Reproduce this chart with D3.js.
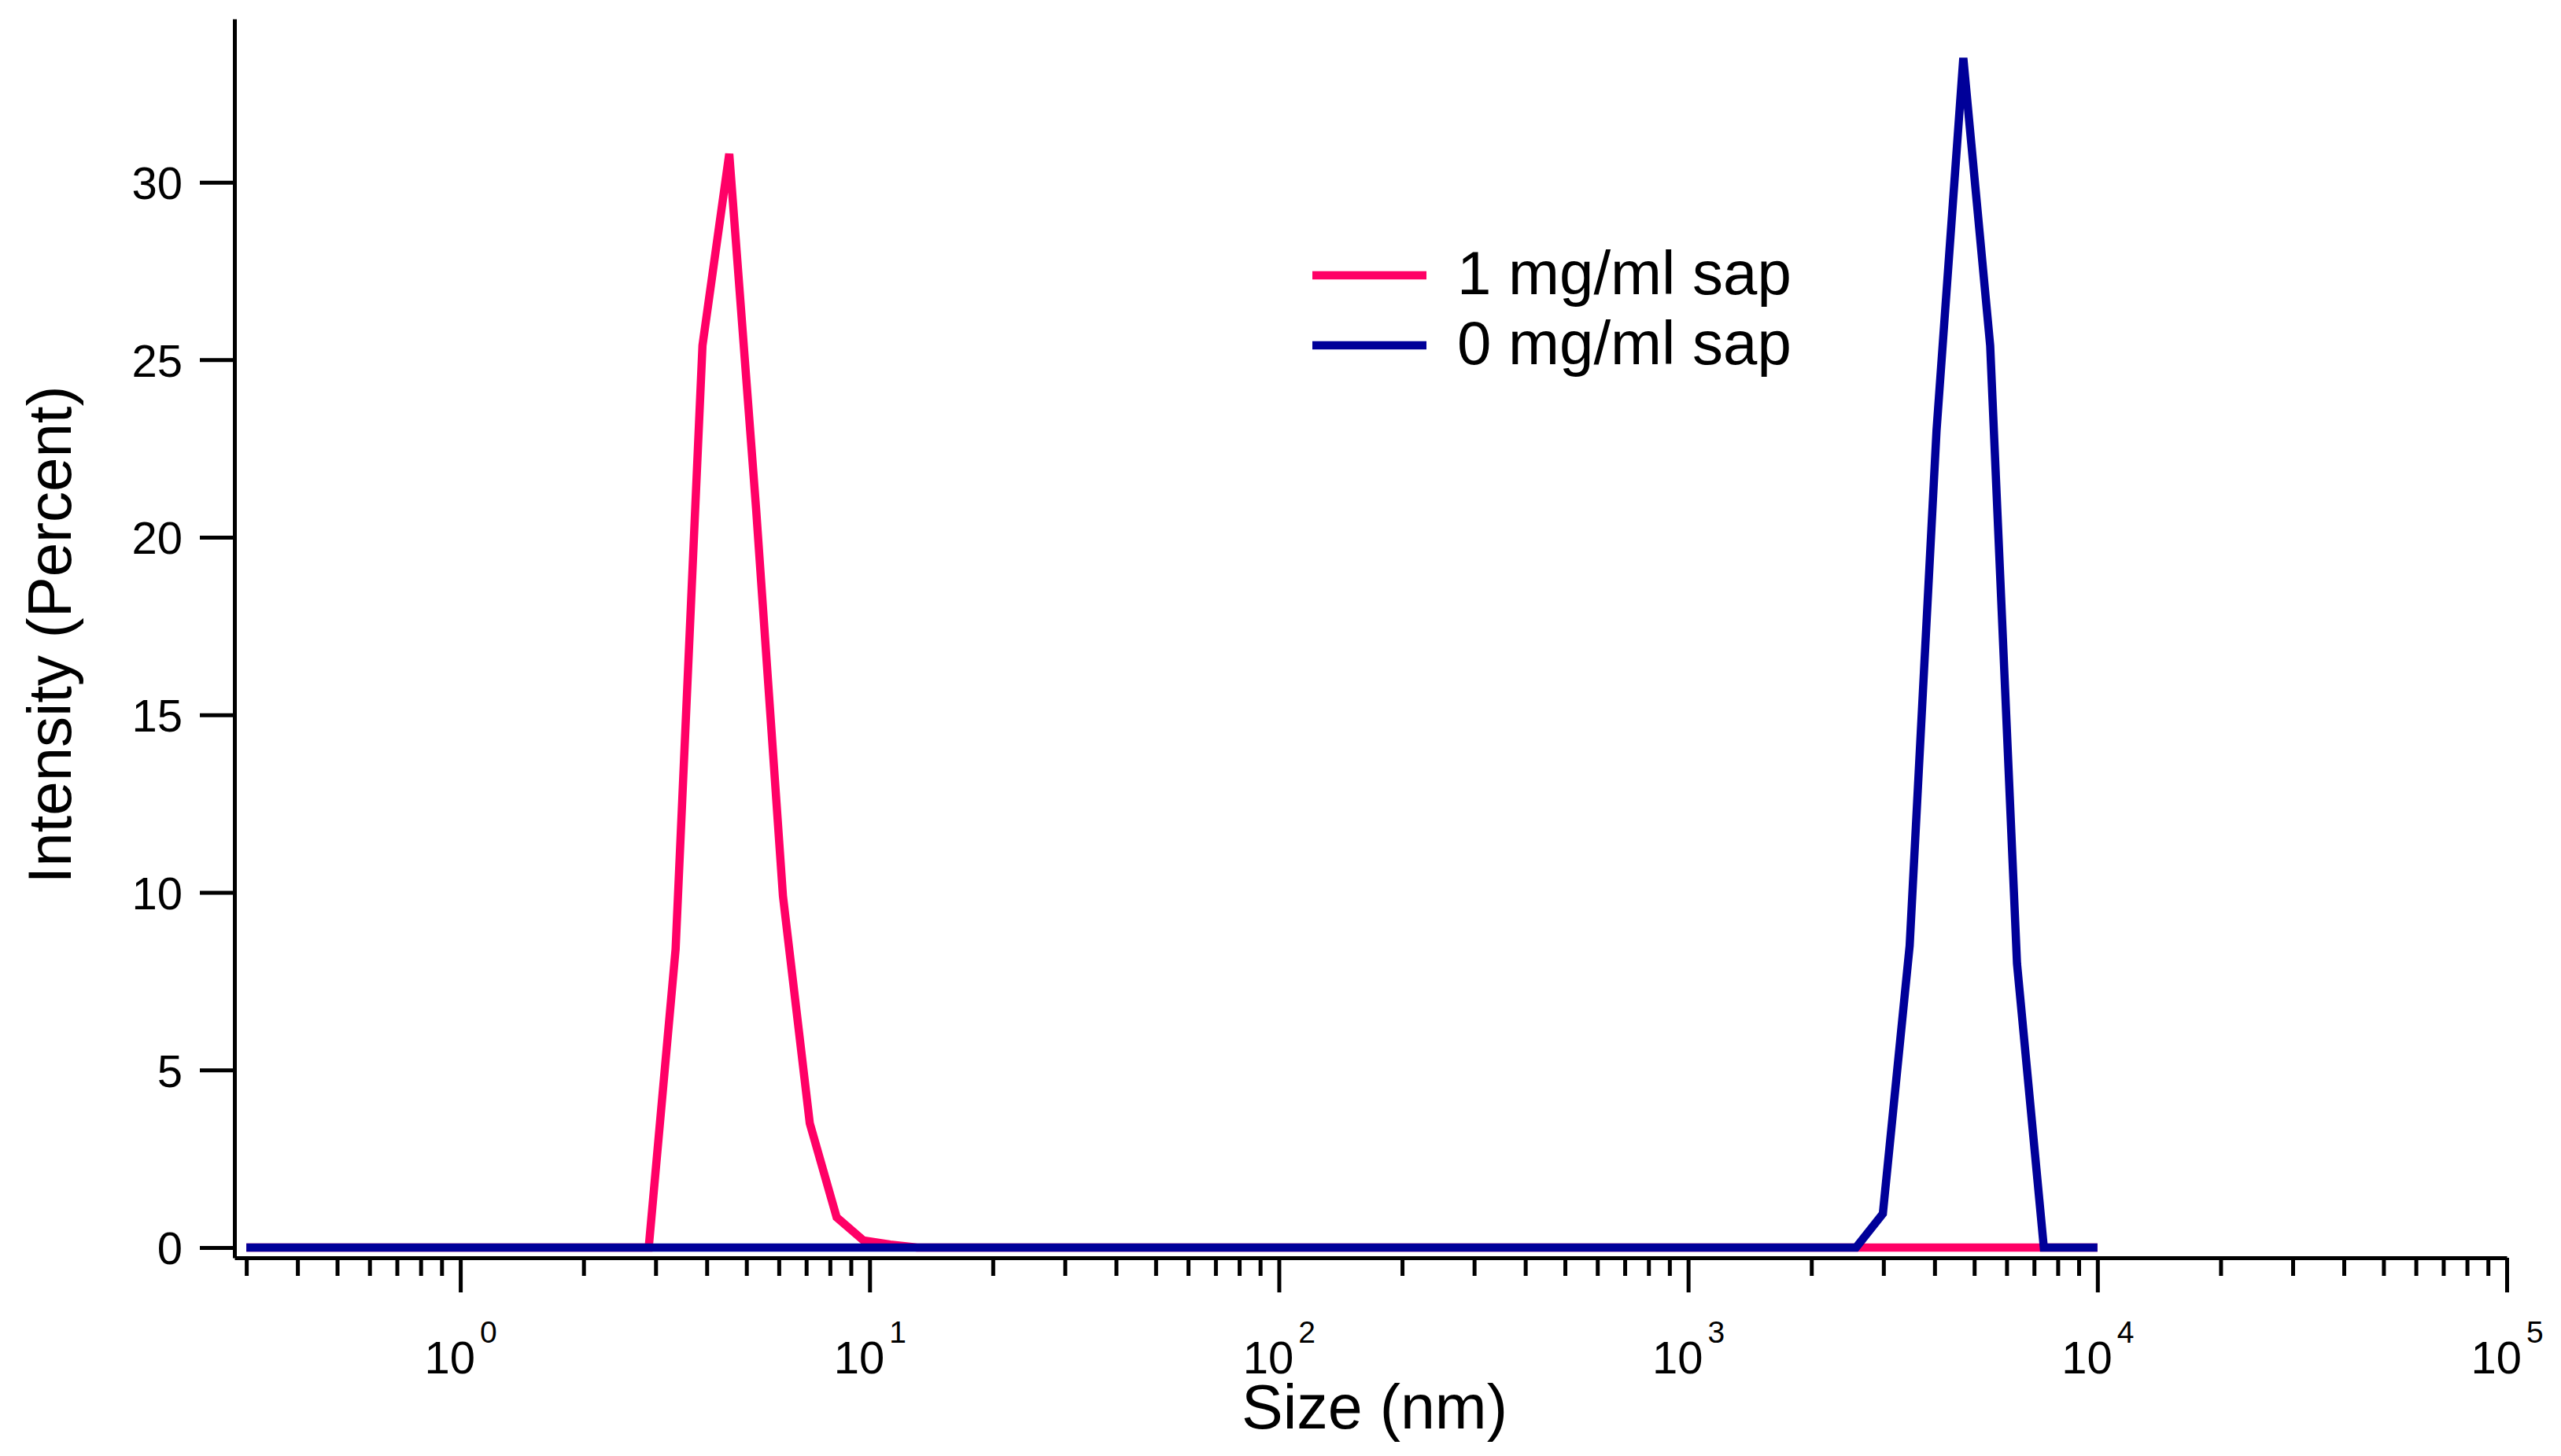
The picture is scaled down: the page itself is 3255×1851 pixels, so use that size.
<!DOCTYPE html>
<html>
<head>
<meta charset="utf-8">
<script src="https://cdn.jsdelivr.net/npm/d3@7"></script>
<style>
	body { margin: 0; background: #fff; }
	text { font-family: "Liberation Sans", Arial, sans-serif; fill: #000; }
</style>
</head>
<body>
<div id="chart"></div>
<script>

// 1 mg/ml sap (pink)
let sizePink = [0.3, 2.886, 3.357, 3.905, 4.540, 5.280, 6.141, 7.141, 8.306, 9.656, 11.23, 13.06, 10000];
let intensityPink = [0, 0, 8.4, 25.4, 30.8, 20.8, 9.9, 3.5, 0.85, 0.2, 0.08, 0, 0];

// 0 mg/ml sap (blue)
let sizeBlue = [0.3, 2571, 2990, 3477, 4044, 4702, 5469, 6360, 7396, 8601, 10000];
let intensityBlue = [0, 0, 0.95, 8.5, 23.0, 33.5, 25.4, 8.0, 0, 0, 0];

let seriesNames = ["1 mg/ml sap", "0 mg/ml sap"];
let seriesColors = ["#ff0066", "#000099"];

let yTicks = [0, 5, 10, 15, 20, 25, 30];
let xMajorExp = [0, 1, 2, 3, 4, 5];
let xMinor = [];
[-1, 0, 1, 2, 3, 4].forEach(function(e){
	[2, 3, 4, 5, 6, 7, 8, 9].forEach(function(m){
		let v = m * Math.pow(10, e);
		if (v >= 0.3) xMinor.push(v);
	});
});

const width = 3255;
const height = 1851;

let svg = d3.select("#chart")
	.append("svg")
	.attr("width", width)
	.attr("height", height);

svg.append("rect")
	.attr("width", width)
	.attr("height", height)
	.attr("fill", "#fff");

let x = d3.scaleLog()
	.domain([0.2806, 1e5])
	.range([298, 3186]);

let y = d3.scaleLinear()
	.domain([-0.29, 34.6])
	.range([1599, 24]);

// lines
let line = d3.line()
	.x(d => x(d[0]))
	.y(d => y(d[1]));

let pinkData = sizePink.map((s, i) => [s, intensityPink[i]]);
let blueData = sizeBlue.map((s, i) => [s, intensityBlue[i]]);

[pinkData, blueData].forEach(function(data, i){
	svg.append("path")
		.datum(data)
		.attr("d", line)
		.attr("fill", "none")
		.attr("stroke", seriesColors[i])
		.attr("stroke-width", 10.5)
		.attr("stroke-linejoin", "miter");
});

// y axis
let yAxis = svg.append("g")
	.attr("transform", "translate(" + 298 + ",0)")
	.call(d3.axisLeft(y)
		.tickValues(yTicks)
		.tickSize(44)
		.tickSizeOuter(0)
		.tickPadding(22)
		.tickFormat(d3.format("d")));

yAxis.selectAll("text")
	.attr("font-size", 58)
	.attr("dy", "0.36em");

// x axis, minor ticks first
let xAxisMinor = svg.append("g")
	.attr("transform", "translate(0," + 1599 + ")")
	.call(d3.axisBottom(x)
		.tickValues(xMinor)
		.tickSize(23)
		.tickSizeOuter(0)
		.tickFormat(""));
xAxisMinor.select(".domain").remove();

let xAxis = svg.append("g")
	.attr("transform", "translate(0," + 1599 + ")")
	.call(d3.axisBottom(x)
		.tickValues(xMajorExp.map(e => Math.pow(10, e)))
		.tickSize(44)
		.tickSizeOuter(0));

xAxis.selectAll(".tick text")
	.attr("y", 147)
	.attr("dy", 0)
	.attr("font-size", 58)
	.text(null)
	.each(function(d){
		let t = d3.select(this);
		t.append("tspan").text("10");
		t.append("tspan")
			.attr("font-size", 39)
			.attr("dx", 6)
			.attr("dy", -39)
			.text(Math.round(Math.log10(d)));
	});

svg.selectAll(".domain, .tick line")
	.attr("stroke", "#000")
	.attr("stroke-width", 5);

svg.selectAll(".tick text").attr("fill", "#000");

// axis titles
svg.append("text")
	.attr("transform", "translate(90,807) rotate(-90)")
	.attr("text-anchor", "middle")
	.attr("font-size", 78)
	.text("Intensity (Percent)");

svg.append("text")
	.attr("x", 1747)
	.attr("y", 1816)
	.attr("text-anchor", "middle")
	.attr("font-size", 79)
	.text("Size (nm)");

// legend
let legend = svg.append("g")
	.attr("class", "legend");

seriesNames.forEach(function(name, i){
	let ly = 350 + i * 89;
	legend.append("line")
		.attr("x1", 1668)
		.attr("x2", 1813)
		.attr("y1", ly)
		.attr("y2", ly)
		.attr("stroke", seriesColors[i])
		.attr("stroke-width", 10.5);
	legend.append("text")
		.attr("x", 1852)
		.attr("y", ly + 24)
		.attr("font-size", 78)
		.text(name);
});

</script>
</body>
</html>
